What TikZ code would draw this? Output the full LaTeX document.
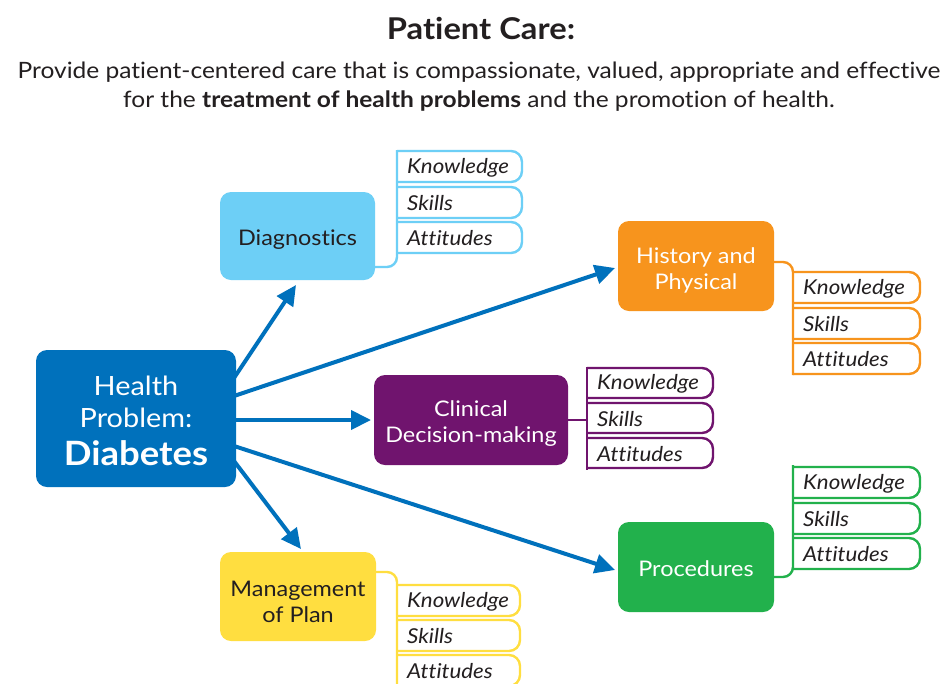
\documentclass[tikz,border=0pt]{standalone}
\usepackage{fontspec}
\setmainfont{Lato}[FakeStretch=1.09, Ligatures=NoCommon]
\usetikzlibrary{arrows.meta}
\definecolor{hpblue}{RGB}{0,113,188}
\definecolor{diagblue}{RGB}{109,207,246}
\definecolor{histor}{RGB}{247,148,29}
\definecolor{clinpur}{RGB}{112,20,110}
\definecolor{procgr}{RGB}{34,177,76}
\definecolor{mgmtyel}{RGB}{255,222,64}
\definecolor{txtdark}{RGB}{35,31,32}
\tikzset{
  mainbox/.style={rounded corners=11pt, inner sep=0pt},
  boxtext/.style={inner sep=0pt, align=center, font=\fontsize{21.5}{26}\selectfont},
  arr/.style={hpblue, line width=4pt, -{Triangle[length=20pt,width=19pt]}},
  tabline/.style={line width=2.4pt, rounded corners=11pt},
  spine/.style={line width=2.4pt, rounded corners=10pt},
  tabtext/.style={anchor=west, inner sep=0pt, font=\fontsize{20.5}{22}\selectfont\itshape, text=txtdark},
}
% \tabset{color}{prefix}{x0}{x1}{yK}{yS}{yA}{h}
\newcommand\tabset[8]{%
  \draw[tabline,#1] (#3,#5) -- (#4,#5) -- (#4,#5+#8) -- (#3,#5+#8);
  \draw[tabline,#1] (#3,#6) -- (#4,#6) -- (#4,#6+#8) -- (#3,#6+#8);
  \draw[tabline,#1] (#3,#7) -- (#4,#7) -- (#4,#7+#8) -- (#3,#7+#8);
  \node[tabtext] (#2k) at (#3+10,#5+#8/2+1) {Knowledge};
  \node[tabtext] (#2s) at (#3+10,#6+#8/2+1) {Skills};
  \node[tabtext] (#2a) at (#3+10,#7+#8/2+1) {Attitudes};
}
\begin{document}
\begin{tikzpicture}[x=1pt,y=-1pt]
\useasboundingbox[fill=white] (0,0) rectangle (947,683);
% title
\node[font=\fontsize{30}{34}\selectfont\bfseries, text=txtdark, anchor=base] (title) at (481,39) {Patient Care:};
\node[font=\fontsize{22.5}{29}\selectfont, text=txtdark, align=center, anchor=north] (sub) at (479,58)
 {Provide patient-centered care that is compassionate, valued, appropriate and effective\\
  for the \textbf{treatment of health problems} and the promotion of health.};
% main boxes
\node[mainbox, fill=hpblue, minimum width=200pt, minimum height=137pt] (hp) at (136,418.5) {};
\node[boxtext, text=white, font=\fontsize{26.5}{32}\selectfont] (hpt) at (136,421)
 {Health\\Problem:\\[6pt]{\fontsize{33.5}{36}\selectfont\bfseries Diabetes}};
\node[mainbox, fill=diagblue, minimum width=155pt, minimum height=88pt] (diag) at (297.5,236) {};
\node[boxtext, text=txtdark] (diagt) at (297.5,240) {Diagnostics};
\node[mainbox, fill=histor, minimum width=156pt, minimum height=90pt] (hist) at (696,266) {};
\node[boxtext, text=white] (histt) at (696,270) {History and\\Physical};
\node[mainbox, fill=clinpur, minimum width=194pt, minimum height=90pt] (clin) at (471,420) {};
\node[boxtext, text=white] (clint) at (471,424) {Clinical\\Decision-making};
\node[mainbox, fill=procgr, minimum width=156pt, minimum height=90pt] (proc) at (696,567) {};
\node[boxtext, text=white] (proct) at (696,569) {Procedures};
\node[mainbox, fill=mgmtyel, minimum width=156pt, minimum height=89pt] (mgmt) at (298,596.5) {};
\node[boxtext, text=txtdark] (mgmtt) at (298,602) {Management\\of Plan};
% spines
\draw[spine, diagblue] (397,150) -- (397,267) -- (diag.east |- 0,267);
\draw[spine, histor] (hist.east |- 0,262) -- (793,262) -- (793,375);
\draw[spine, clinpur] (clin.east) -- (587,420);
\draw[line width=2.4pt, clinpur] (587,367) -- (587,470);
\draw[spine, procgr] (793,465) -- (793,577) -- (proc.east |- 0,577);
\draw[spine, mgmtyel] (mgmt.east |- 0,572) -- (397,572) -- (397,690);
% tabs
\tabset{diagblue}{d}{397}{522}{151}{187}{222}{31}
\tabset{histor}{h}{793}{920}{272}{308}{343}{31}
\tabset{clinpur}{c}{587}{713}{368}{403}{438}{30}
\tabset{procgr}{p}{793}{920}{467}{503}{538}{31}
\tabset{mgmtyel}{m}{397}{520}{585}{620}{655}{31}
% arrows
\coordinate (s1) at (234,378);
\coordinate (s2) at (234,396);
\coordinate (s3) at (234,420);
\coordinate (s4) at (234,446);
\coordinate (s5) at (234,461);
\coordinate (e1) at (296,285);
\coordinate (e2) at (615,268);
\coordinate (e3) at (371,420);
\coordinate (e4) at (615,570);
\coordinate (e5) at (301,549);
\draw[arr] (s1) -- (e1);
\draw[arr] (s2) -- (e2);
\draw[arr] (s3) -- (e3);
\draw[arr] (s4) -- (e4);
\draw[arr] (s5) -- (e5);
\end{tikzpicture}
\end{document}
